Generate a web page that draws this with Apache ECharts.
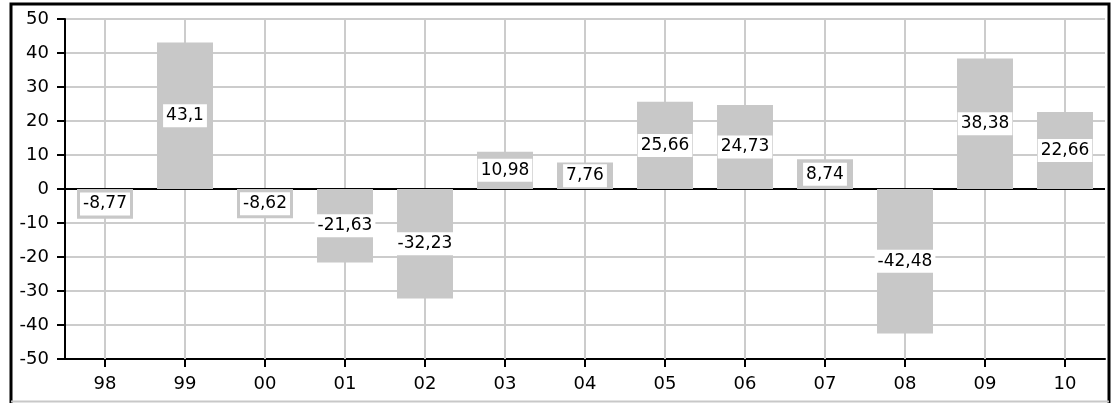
<!DOCTYPE html>
<html>
<head>
<meta charset="utf-8">
<script src="https://cdn.jsdelivr.net/npm/echarts@6/dist/echarts.min.js"></script>
<style>
html,body{margin:0;padding:0;background:#fff;}
#c{width:1112px;height:403px;}
</style>
</head>
<body>
<div id="c"></div>
<script>
var categories = ['98','99','00','01','02','03','04','05','06','07','08','09','10'];
var values = [-8.77, 43.1, -8.62, -21.63, -32.23, 10.98, 7.76, 25.66, 24.73, 8.74, -42.48, 38.38, 22.66];
var yMin = -50, yMax = 50, yStep = 10;

var chart = echarts.init(document.getElementById('c'));
var FONT = 'DejaVu Sans';
chart.setOption({
  animation: false,
  backgroundColor: '#ffffff',
  grid: {left: 65, right: 7, top: 19, bottom: 44, containLabel: false},
  xAxis: {
    type: 'category',
    data: categories,
    boundaryGap: true,
    axisLine: {show: true, onZero: false, lineStyle: {color: '#000', width: 2}},
    axisTick: {show: true, alignWithLabel: true, length: 8, lineStyle: {color: '#000', width: 2}},
    axisLabel: {color: '#000', fontFamily: FONT, fontSize: 18, margin: 16},
    splitLine: {show: false}
  },
  yAxis: {
    type: 'value',
    min: yMin, max: yMax, interval: yStep,
    axisLine: {show: true, lineStyle: {color: '#000', width: 2}},
    axisTick: {show: true, length: 8, lineStyle: {color: '#000', width: 2}},
    axisLabel: {color: '#000', fontFamily: FONT, fontSize: 18, margin: 16},
    splitLine: {show: true, lineStyle: {color: '#cccccc', width: 2}}
  },
  graphic: [
    {type: 'polyline', silent: true, z: 100,
     shape: {points: [[11, 403], [11, 4], [1109, 4], [1109, 403]]},
     style: {stroke: '#000', lineWidth: 3, fill: null}},
    {type: 'line', silent: true, z: 100,
     shape: {x1: 11, y1: 401.5, x2: 1109, y2: 401.5},
     style: {stroke: '#c8c8c8', lineWidth: 2}}
  ],
  series: [
    {
      type: 'line', data: [], z: 1, silent: true,
      markLine: {
        z: 1, silent: true, symbol: 'none', label: {show: false},
        lineStyle: {color: '#cccccc', width: 2, type: 'solid'},
        data: categories.map(function (c) { return {xAxis: c}; })
      }
    },
    {
      type: 'bar', data: values, barWidth: 56, z: 3,
      itemStyle: {color: '#c8c8c8'},
      label: {
        show: true, position: 'inside', color: '#000',
        fontFamily: FONT, fontSize: 17,
        backgroundColor: '#ffffff', padding: [3, 3, 3, 3],
        formatter: function (p) { return String(p.value).replace('.', ','); }
      },
      markLine: {
        z: 2, silent: true, symbol: 'none', label: {show: false},
        lineStyle: {color: '#000', width: 2, type: 'solid'},
        data: [{yAxis: 0}]
      }
    }
  ]
});
</script>
</body>
</html>
